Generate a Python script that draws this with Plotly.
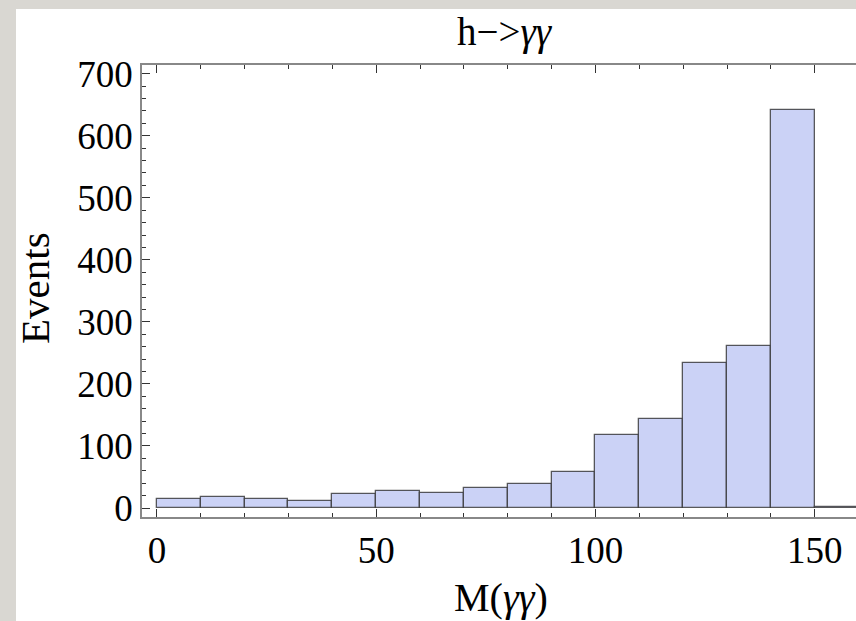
import plotly.graph_objects as go

# Data
bin_left = [0, 10, 20, 30, 40, 50, 60, 70, 80, 90, 100, 110, 120, 130, 140, 150]
bin_width = 10
counts = [15, 17, 15, 12, 22, 27, 24, 33, 39, 58, 117, 144, 234, 261, 641, 2]
x_tick_vals = [0, 50, 100, 150]
y_tick_vals = [0, 100, 200, 300, 400, 500, 600, 700]

title_text = "h\u2212><i>γγ</i>"
x_title = "M(<i>γγ</i>)"
y_title = "Events"

FONT = "Liberation Serif"
W, H = 856, 621
L, R, T, B = 142, 0, 65, 104

centers = [b + bin_width / 2 for b in bin_left]

fig = go.Figure()
fig.add_trace(go.Bar(
    x=centers, y=counts, width=[bin_width] * len(counts),
    marker=dict(color="#cbd2f6", line=dict(color="rgba(50,50,50,0.8)", width=1.3)),
    showlegend=False,
))

pw = W - L - R
ph = H - T - B

def px_x(p):
    return (p - L) / pw

def px_y(p):
    return (H - B - p) / ph

bg = "#d9d7d2"
fig.update_layout(
    width=W, height=H,
    margin=dict(l=L, r=R, t=T, b=B, autoexpand=False),
    paper_bgcolor="white", plot_bgcolor="white",
    bargap=0,
    font=dict(family=FONT, color="black", size=37),
    shapes=[
        dict(type="rect", xref="paper", yref="paper", x0=px_x(-5), x1=px_x(16),
             y0=px_y(H + 5), y1=px_y(-5), fillcolor=bg, line=dict(width=0), layer="above"),
        dict(type="rect", xref="paper", yref="paper", x0=px_x(-5), x1=px_x(W + 5),
             y0=px_y(9), y1=px_y(-5), fillcolor=bg, line=dict(width=0), layer="above"),
    ],
    annotations=[
        dict(text=title_text, xref="paper", yref="paper", x=px_x(505), y=px_y(32),
             xanchor="center", yanchor="middle", showarrow=False,
             font=dict(size=39, family=FONT)),
        dict(text=x_title, xref="paper", yref="paper", x=px_x(501), y=px_y(597),
             xanchor="center", yanchor="middle", showarrow=False,
             font=dict(size=40, family=FONT)),
        dict(text=y_title, xref="paper", yref="paper", x=px_x(35), y=px_y(288),
             xanchor="center", yanchor="middle", showarrow=False, textangle=-90,
             font=dict(size=41, family=FONT)),
    ],
)

fig.update_xaxes(
    range=[-3.4, 159.4], tickvals=x_tick_vals, ticks="inside", ticklen=8,
    tickcolor="#333", tickwidth=1.2,
    showline=True, linecolor="#888", linewidth=1.5, mirror="ticks",
    showgrid=False, zeroline=False,
    minor=dict(dtick=10, tick0=0, ticks="inside", ticklen=4, tickcolor="#333", tickwidth=1.2),
    tickfont=dict(size=37, family=FONT),
)
fig.update_yaxes(
    range=[-14.5, 714], tickvals=y_tick_vals, ticks="inside", ticklen=8,
    tickcolor="#333", tickwidth=1.2,
    showline=True, linecolor="#888", linewidth=1.5, mirror=False,
    showgrid=False, zeroline=False,
    minor=dict(dtick=20, tick0=0, ticks="inside", ticklen=4, tickcolor="#333", tickwidth=1.2),
    tickfont=dict(size=37, family=FONT),
)

fig.write_html(
    "out.html",
    config={"displayModeBar": False},
    post_script="document.body.style.margin='0';document.body.style.padding='0';document.body.style.overflow='hidden';",
)
